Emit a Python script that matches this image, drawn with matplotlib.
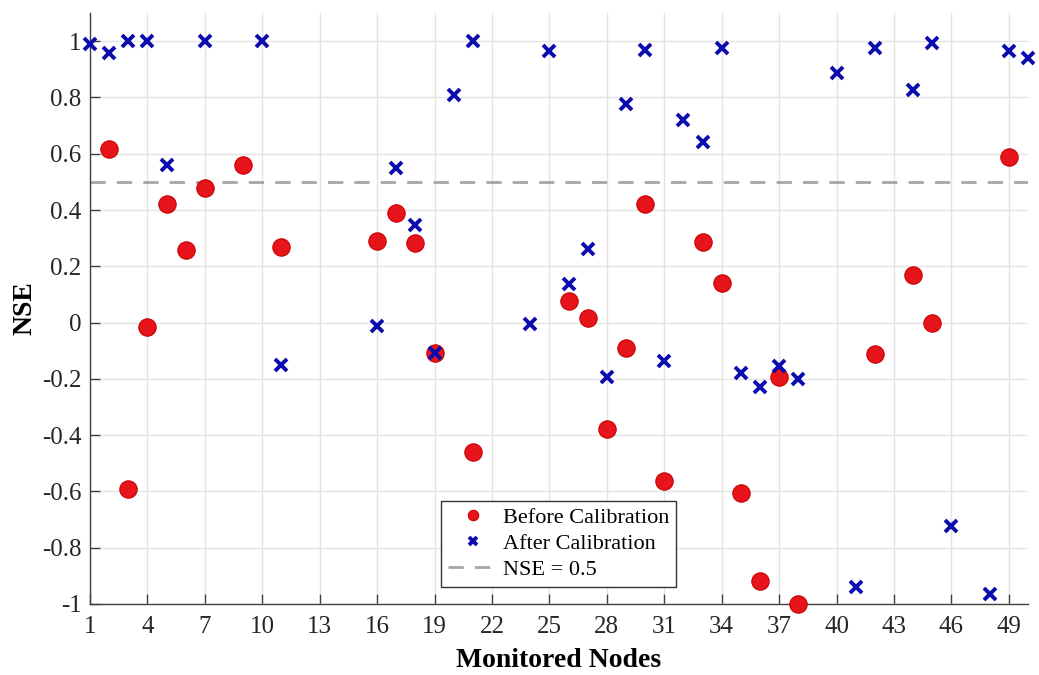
import matplotlib
matplotlib.use("Agg")
import matplotlib.pyplot as plt
import numpy as np

# Data
before_nodes = [2, 3, 4, 5, 6, 7, 9, 11, 16, 17, 18, 19, 21, 26, 27, 28, 29, 30, 31,
                33, 34, 35, 36, 37, 38, 42, 44, 45, 49]
before_nse = [0.616, -0.593, -0.015, 0.421, 0.257, 0.480, 0.561, 0.267, 0.289, 0.390,
              0.284, -0.107, -0.459, 0.076, 0.017, -0.378, -0.092, 0.423, -0.562,
              0.287, 0.139, -0.605, -0.917, -0.195, -1.0, -0.112, 0.168, -0.003, 0.588]

after_nodes = [1, 2, 3, 4, 5, 7, 10, 11, 16, 17, 18, 19, 20, 21, 24, 25, 26, 27, 28, 29,
               30, 31, 32, 33, 34, 35, 36, 37, 38, 40, 41, 42, 44, 45, 46, 48, 49, 50]
after_nse = [0.991, 0.959, 1.0, 1.0, 0.561, 1.0, 1.0, -0.151, -0.013, 0.548, 0.346,
             -0.107, 0.807, 1.0, -0.006, 0.966, 0.136, 0.263, -0.193, 0.775,
             0.967, -0.137, 0.721, 0.641, 0.977, -0.178, -0.228, -0.154, -0.202, 0.888,
             -0.940, 0.977, 0.827, 0.995, -0.722, -0.964, 0.965, 0.941]

threshold = 0.5
xticks = list(range(1, 50, 3))
yticks = [-1, -0.8, -0.6, -0.4, -0.2, 0, 0.2, 0.4, 0.6, 0.8, 1]
ytick_labels = ["-1", "-0.8", "-0.6", "-0.4", "-0.2", "0", "0.2", "0.4", "0.6", "0.8", "1"]

plt.rcParams['font.family'] = ['Liberation Serif', 'DejaVu Serif']
plt.rcParams['axes.unicode_minus'] = False

fig = plt.figure(figsize=(10.39, 6.75), dpi=100)
ax = fig.add_axes([0.0866, 0.1052, 0.9028, 0.8755])

ax.grid(True, color='#e3e3e3', linewidth=1.0, zorder=0)
ax.set_axisbelow(True)

ax.axhline(threshold, color='#a6a6a6', linestyle=(0, (5.5, 4)), linewidth=2.0,
           zorder=1, label='NSE = 0.5')
h1 = ax.plot(before_nodes, before_nse, linestyle='none', marker='o', markersize=12.5,
             markerfacecolor='#e8141c', markeredgecolor='#c80000', markeredgewidth=0.8,
             zorder=3, label='Before Calibration', clip_on=False)[0]
h2 = ax.plot(after_nodes, after_nse, linestyle='none', marker='x', markersize=9,
             markeredgewidth=2.8, color='#0c0cae', zorder=4,
             label='After Calibration', clip_on=False)[0]
h3 = ax.get_lines()[0]

ax.set_xlim(1, 50)
ax.set_ylim(-1, 1.1)
ax.set_xticks(xticks)
ax.set_yticks(yticks)
ax.set_yticklabels(ytick_labels)

for s in ['top', 'right']:
    ax.spines[s].set_visible(False)
for s in ['left', 'bottom']:
    ax.spines[s].set_color('#404040')
    ax.spines[s].set_linewidth(1.0)

ax.tick_params(axis='both', direction='in', length=7, width=1.0, color='#404040',
               labelsize=18, labelcolor='#262626')
ax.tick_params(axis='x', pad=9)
ax.tick_params(axis='y', pad=6)

ax.set_xlabel('Monitored Nodes', fontsize=20, fontweight='bold', labelpad=7)
ax.set_ylabel('NSE', fontsize=20, fontweight='bold', labelpad=3)

leg = ax.legend(handles=[h1, h2, h3], loc='lower center', bbox_to_anchor=(0.4995, 0.029),
                fontsize=16, frameon=True, fancybox=False, framealpha=1,
                edgecolor='#333333', markerscale=0.6, handlelength=2.2,
                handletextpad=0.25, borderpad=0.3, labelspacing=0.25,
                borderaxespad=0)
leg.get_frame().set_linewidth(1.0)

fig.savefig('out.png', dpi=100)
